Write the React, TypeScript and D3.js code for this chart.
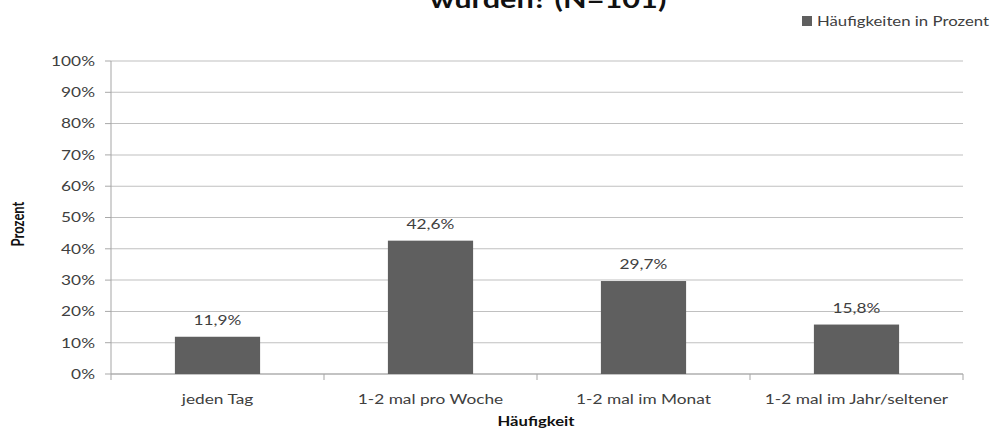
import React from "react";
import * as d3 from "d3";

const categories = ["jeden Tag", "1-2 mal pro Woche", "1-2 mal im Monat", "1-2 mal im Jahr/seltener"];
const values = [11.9, 42.6, 29.7, 15.8];
const valueLabels = ["11,9%", "42,6%", "29,7%", "15,8%"];
const yTicks = [0, 10, 20, 30, 40, 50, 60, 70, 80, 90, 100];
const titleText = "wurden? (N=101)";
const legendLabel = "Häufigkeiten in Prozent";
const xTitle = "Häufigkeit";
const yTitle = "Prozent";

const W = 997;
const H = 435;
// the reference is a horizontally stretched picture: draw in a narrower viewBox
const S = 1.28;
const VW = W / S;
const sx = (px: number) => px / S;
const left = sx(111);
const right = sx(963);
const top = 61;
const bottom = 374;
const font = "Lato, 'Open Sans', sans-serif";
const barColor = "#5f5f5f";
const textColor = "#404040";

export default function App() {
  const x = d3.scaleBand<string>().domain(categories).range([left, right]).paddingInner(0.6).paddingOuter(0.3);
  const xCat = d3.scaleBand<string>().domain(categories).range([left, right]);
  const y = d3.scaleLinear().domain([0, 100]).range([bottom, top]);
  return (
    <svg
      width={W}
      height={H}
      viewBox={`0 0 ${VW} ${H}`}
      preserveAspectRatio="none"
      style={{ position: "absolute", left: 0, top: 0, background: "#fff" }}
    >
      <rect x={0} y={0} width={VW} height={H} fill="#fff" />
      <text x={sx(548)} y={8} textAnchor="middle" fontFamily={font} fontWeight="bold" fontSize={24} fill="#111">{titleText}</text>
      {yTicks.map((t) => (
        <g key={t}>
          <line x1={left} x2={right} y1={y(t)} y2={y(t)} stroke="#c0c0c0" strokeWidth={1} />
          <line x1={left - sx(6)} x2={left} y1={y(t)} y2={y(t)} stroke="#a8a8a8" strokeWidth={1} />
          <text x={sx(95)} y={y(t)} dy="0.36em" textAnchor="end" fontFamily={font} fontSize={13.5} fill={textColor}>{t + "%"}</text>
        </g>
      ))}
      <line x1={left} x2={left} y1={top} y2={bottom} stroke="#a8a8a8" strokeWidth={0.8} />
      <line x1={left} x2={right} y1={bottom} y2={bottom} stroke="#a8a8a8" strokeWidth={1} />
      {categories.map((c) => (
        <line key={"t" + c} x1={xCat(c)!} x2={xCat(c)!} y1={bottom} y2={bottom + 6} stroke="#a8a8a8" strokeWidth={0.8} />
      ))}
      <line x1={right} x2={right} y1={bottom} y2={bottom + 6} stroke="#a8a8a8" strokeWidth={0.8} />
      {categories.map((c, i) => (
        <g key={c}>
          <rect x={x(c)!} y={y(values[i])} width={x.bandwidth()} height={bottom - y(values[i])} fill={barColor} />
          <text x={x(c)! + x.bandwidth() / 2} y={y(values[i]) - 12} textAnchor="middle" fontFamily={font} fontSize={13.5} fill={textColor}>{valueLabels[i]}</text>
          <text x={xCat(c)! + xCat.bandwidth() / 2} y={404} textAnchor="middle" fontFamily={font} fontSize={13.5} fill={textColor}>{c}</text>
        </g>
      ))}
      <text x={sx(536)} y={426} textAnchor="middle" fontFamily={font} fontWeight="bold" fontSize={13} fill="#111">{xTitle}</text>
      <text transform={`translate(${sx(24)},224) rotate(-90)`} textAnchor="middle" fontFamily={font} fontWeight="bold" fontSize={13} fill="#111">{yTitle}</text>
      <rect x={sx(802)} y={16} width={sx(10)} height={10} fill={barColor} />
      <text x={sx(817)} y={26} fontFamily={font} fontSize={13.1} fill={textColor}>{legendLabel}</text>
    </svg>
  );
}
